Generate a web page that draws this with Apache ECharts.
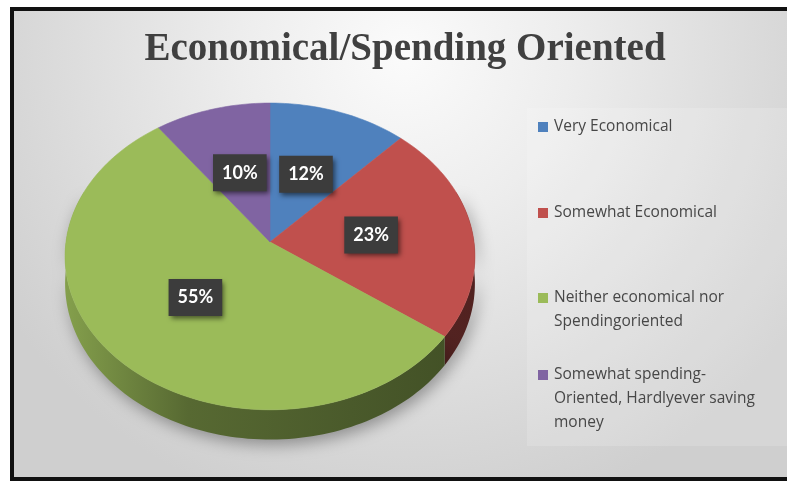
<!DOCTYPE html>
<html>
<head>
<meta charset="utf-8">
<script src="https://cdn.jsdelivr.net/npm/echarts@6/dist/echarts.min.js"></script>
<style>
  html, body { margin: 0; padding: 0; background: #ffffff; }
  #chart { width: 787px; height: 481px; }
</style>
</head>
<body>
<div id="chart"></div>
<script>
// ---- data ----
const titleText = 'Economical/Spending Oriented';
const categories = [
  'Very Economical',
  'Somewhat Economical',
  'Neither economical nor\nSpendingoriented',
  'Somewhat spending-\nOriented, Hardlyever saving\nmoney'
];
const shares = [12, 23, 55, 10];            // percent
const sliceColors = ['#4f81bd', '#c0504d', '#9bbb59', '#8064a2'];

// ---- disc geometry (tilted disc seen in perspective) ----
const CX = 270, CY = 242;     // projected centre of the top face
const RX = 204, RY = 152;     // half axes before perspective
const PERSP = 0.094;          // perspective strength
const DEPTH = 27;             // thickness of the disc

const total = shares.reduce((a, b) => a + b, 0);
const startAngles = [];
const sweeps = [];
shares.reduce((acc, v) => {
  startAngles.push(acc / total * 360);
  sweeps.push(v / total * 360);
  return acc + v;
}, 0);

// angle in degrees, clockwise from 12 o'clock; r in [0,1]
function project(r, ang, lower) {
  const t = ang * Math.PI / 180;
  const u = r * Math.sin(t);
  const v = -r * Math.cos(t);
  const w = 1 - PERSP * v;
  return [CX + RX * u / w, CY + RY * v / w + (lower ? DEPTH / w : 0)];
}

function arcPoints(a0, a1, lower) {
  const n = Math.max(2, Math.ceil((a1 - a0) / 1.5));
  const pts = [];
  for (let k = 0; k <= n; k++) pts.push(project(1, a0 + (a1 - a0) * k / n, lower));
  return pts;
}

function shade(hex, f) {
  const n = parseInt(hex.slice(1), 16);
  const c = [(n >> 16) & 255, (n >> 8) & 255, n & 255].map(x => Math.round(x * f));
  return 'rgb(' + c.join(',') + ')';
}

// outer wall of each slice (only the front part can be seen)
function renderWall(params, api) {
  const i = params.dataIndex;
  const a0 = Math.max(startAngles[i], 70);
  const a1 = Math.min(startAngles[i] + sweeps[i], 290);
  if (a1 <= a0) return null;
  const top = arcPoints(a0, a1, false);
  const bottom = arcPoints(a0, a1, true).reverse();
  const base = sliceColors[i];
  return {
    type: 'polygon',
    shape: { points: top.concat(bottom) },
    style: {
      fill: {
        type: 'linear', x: CX - RX, y: 0, x2: CX + RX, y2: 0, global: true,
        colorStops: [
          { offset: 0, color: shade(base, 0.85) },
          { offset: 0.3, color: shade(base, 0.56) },
          { offset: 0.7, color: shade(base, 0.48) },
          { offset: 1, color: shade(base, 0.42) }
        ]
      },
      shadowBlur: 16,
      shadowColor: 'rgba(0,0,0,0.35)',
      shadowOffsetX: 3,
      shadowOffsetY: 5
    }
  };
}

// top face of each slice plus its value label
function renderTop(params, api) {
  const i = params.dataIndex;
  const a0 = startAngles[i];
  const a1 = a0 + sweeps[i];
  const pts = [project(0, 0, false)].concat(arcPoints(a0, a1, false));
  const mid = project(0.5, (a0 + a1) / 2, false);
  return {
    type: 'group',
    children: [
      {
        type: 'polygon',
        shape: { points: pts },
        style: { fill: sliceColors[i], stroke: sliceColors[i], lineWidth: 0.6 }
      },
      {
        type: 'text',
        x: mid[0],
        y: mid[1],
        z2: 100,
        style: {
          text: api.value(1) + '%',
          fill: '#ffffff',
          font: 'bold 18px Lato',
          align: 'center',
          verticalAlign: 'middle',
          backgroundColor: '#3c3c3c',
          padding: [10, 9, 9, 9],
          shadowBlur: 5,
          shadowColor: 'rgba(0,0,0,0.55)',
          shadowOffsetX: 2,
          shadowOffsetY: 3
        }
      }
    ]
  };
}

const seriesData = shares.map((v, i) => ({ name: categories[i], value: [i, v] }));

// legend rows: centre of the first text line of each entry
const legendRowY = [127, 213, 298, 375];
const legendGraphics = [];
categories.forEach((name, i) => {
  legendGraphics.push({
    type: 'rect',
    shape: { x: 538, y: legendRowY[i] - 5, width: 10, height: 10 },
    style: { fill: sliceColors[i] }
  });
  legendGraphics.push({
    type: 'text',
    x: 554,
    y: legendRowY[i] - 12,
    style: {
      text: name,
      font: '15.5px "Open Sans"',
      fill: '#474747',
      lineHeight: 24,
      verticalAlign: 'top'
    }
  });
});

const chart = echarts.init(document.getElementById('chart'), null, { renderer: 'canvas' });
chart.setOption({
  animation: false,
  backgroundColor: '#ffffff',
  graphic: [
    {
      type: 'rect',
      z: -10,
      shape: { x: 12, y: 9, width: 800, height: 470 },
      style: {
        fill: {
          type: 'radial', x: 0.49, y: 0.1, r: 1.0,
          colorStops: [
            { offset: 0, color: '#fbfbfb' },
            { offset: 0.35, color: '#ededed' },
            { offset: 0.8, color: '#d8d8d8' },
            { offset: 1, color: '#cfcfcf' }
          ]
        },
        stroke: '#111111',
        lineWidth: 4
      }
    },
    {
      type: 'rect',
      z: -9,
      shape: { x: 527, y: 108, width: 262, height: 338 },
      style: { fill: 'rgba(255,255,255,0.16)' }
    },
    {
      type: 'text',
      x: 405,
      y: 50,
      style: {
        text: titleText,
        font: 'bold 39px "Liberation Serif"',
        fill: '#404040',
        align: 'center',
        verticalAlign: 'middle'
      }
    }
  ].concat(legendGraphics),
  series: [
    {
      type: 'custom',
      name: 'wall',
      coordinateSystem: 'none',
      z: 2,
      silent: true,
      renderItem: renderWall,
      data: seriesData
    },
    {
      type: 'custom',
      name: 'top',
      coordinateSystem: 'none',
      z: 3,
      renderItem: renderTop,
      data: seriesData
    }
  ]
});
</script>
</body>
</html>
